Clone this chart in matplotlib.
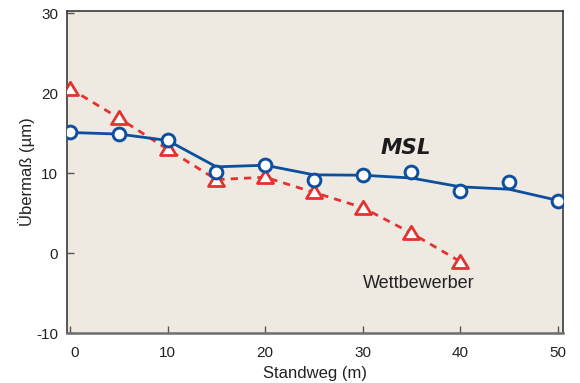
import matplotlib
matplotlib.use("Agg")
import matplotlib.pyplot as plt
import matplotlib.transforms as mtransforms
from matplotlib.path import Path

# Standweg (m)
distance = [0, 5, 10, 15, 20, 25, 30, 35, 40, 45, 50]
# MSL measured oversize (µm)
msl_points = [15.1, 14.9, 14.15, 10.2, 11.05, 9.2, 9.75, 10.1, 7.8, 8.9, 6.55]
# MSL smoothed trend curve (µm)
msl_trend = [15.1, 14.9, 14.1, 10.8, 11.0, 9.8, 9.75, 9.4, 8.3, 8.0, 6.6]
# Competitor oversize (µm)
comp_distance = [0, 5, 10, 15, 20, 25, 30, 35, 40]
comp_values = [20.6, 16.9, 13.0, 9.2, 9.5, 7.6, 5.7, 2.5, -1.05]

x_ticks = [0, 10, 20, 30, 40, 50]
y_ticks = [-10, 0, 10, 20, 30]

plt.rcParams["font.family"] = ["Liberation Sans", "DejaVu Sans"]
plt.rcParams["axes.unicode_minus"] = False

blue = "#0b4f9e"
red = "#e5312f"
bg = "#eeeae1"

fig = plt.figure(figsize=(5.8, 3.83), dpi=100)
ax = fig.add_axes([0.115, 0.1305, 0.855, 0.8407])
ax.set_facecolor(bg)

# wide, flat triangle marker
tri = Path([(-1.0, -0.75), (1.0, -0.75), (0.0, 0.9), (-1.0, -0.75)],
           [Path.MOVETO, Path.LINETO, Path.LINETO, Path.CLOSEPOLY])

ax.plot(comp_distance, comp_values, color=red, lw=2.0, ls=(0, (2.6, 2.2)),
        zorder=2)
ax.plot(comp_distance, comp_values, ls="none", marker=tri, ms=11.5,
        mfc="white", mec=red, mew=2.0, zorder=3)

ax.plot(distance, msl_trend, color=blue, lw=2.0, zorder=4)
ax.plot(distance, msl_points, ls="none", marker="o", ms=9.2,
        mfc="white", mec=blue, mew=2.1, zorder=5)

ax.text(34.4, 13.1, "MSL", fontsize=15.5, fontweight="heavy", style="italic",
        family=["DejaVu Sans"], color="#1c1c1c", ha="center", va="center")
ax.text(35.7, -3.8, "Wettbewerber", fontsize=13, color="#222222",
        ha="center", va="center")

ax.set_xlim(-0.35, 50.5)
ax.set_ylim(-10, 30.3)
ax.set_xticks(x_ticks)
ax.set_yticks(y_ticks)
ax.tick_params(direction="in", length=5, width=1, color="#555555",
               labelsize=11, labelcolor="#222222")
ax.tick_params(axis="x", pad=9)
ax.tick_params(axis="y", pad=6)

# nudge the "0" label on the x axis to the right
lbl0 = ax.get_xticklabels()[0]
lbl0.set_transform(lbl0.get_transform() +
                   mtransforms.ScaledTranslation(5 / 100, 0, fig.dpi_scale_trans))

for side in ["left", "right", "top"]:
    ax.spines[side].set_color("#2a2a2a")
    ax.spines[side].set_linewidth(1.1)
ax.spines["bottom"].set_color("#6e6e6e")
ax.spines["bottom"].set_linewidth(1.8)

ax.set_xlabel("Standweg (m)", fontsize=12, color="#222222", labelpad=5)
ax.set_ylabel("Übermaß (µm)", fontsize=12, color="#222222", labelpad=1)

fig.savefig("out.png", dpi=100)
